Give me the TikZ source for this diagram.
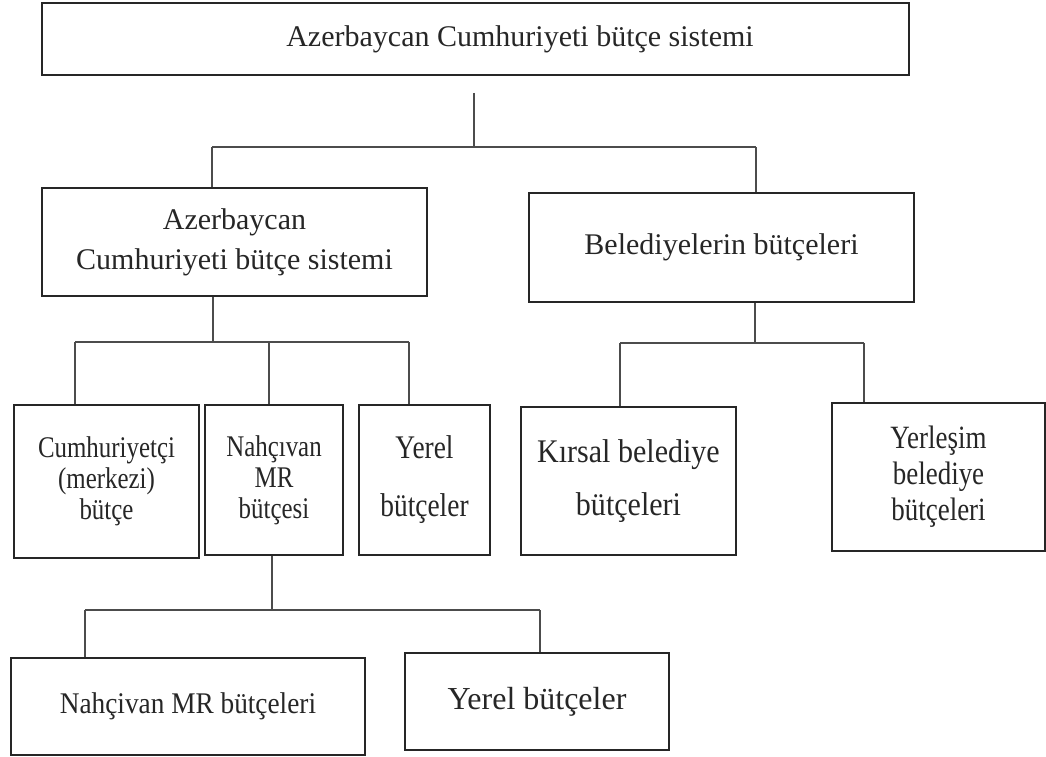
\documentclass[tikz,border=0pt]{standalone}
\usepackage{fontspec}
\setmainfont{Liberation Serif}
\newfontfamily\narrowfont[FakeStretch=0.83]{Liberation Serif}
\newfontfamily\halfnarrowfont[FakeStretch=0.91]{Liberation Serif}

\begin{document}
\begin{tikzpicture}[x=1pt,y=-1pt]
\tikzstyle{every node}+=[inner sep=0pt]
\tikzstyle{box}=[draw=black!85, line width=2pt, rectangle, align=center, text=black!85]
\tikzstyle{link}=[draw=black!70, line width=1.5pt]
\useasboundingbox (0,0) rectangle (1046,757);
\node [box, line width=2.5pt, minimum width=867pt, minimum height=72pt] (top) at (475.5,39) {};
\node [text=black!85, font=\fontsize{30}{36}\selectfont] (toptxt) at (520,39) {Azerbaycan Cumhuriyeti bütçe sistemi};
\node [box, minimum width=385pt, minimum height=108pt, font=\fontsize{30}{40}\selectfont] (azl) at (234.5,242) {Azerbaycan\\Cumhuriyeti bütçe sistemi};
\node [box, minimum width=385pt, minimum height=109pt, font=\fontsize{30}{40}\selectfont] (bel) at (721.5,247.5) {Belediyelerin bütçeleri};
\node [box, minimum width=185pt, minimum height=153pt, font=\narrowfont\fontsize{30}{31}\selectfont] (cum) at (106.5,481.5) {Cumhuriyetçi\\(merkezi)\\bütçe};
\node [box, minimum width=138pt, minimum height=150pt, font=\narrowfont\fontsize{30}{31}\selectfont] (nah) at (274,480) {Nahçıvan\\MR\\bütçesi};
\node [box, minimum width=131pt, minimum height=150pt, font=\narrowfont\fontsize{33}{58}\selectfont] (yer) at (424.5,480) {Yerel\\bütçeler};
\node [box, minimum width=215pt, minimum height=148pt, font=\halfnarrowfont\fontsize{33}{53}\selectfont] (kir) at (628.5,481) {Kırsal belediye\\bütçeleri};
\node [box, minimum width=213pt, minimum height=148pt, font=\narrowfont\fontsize{32.5}{36}\selectfont] (yrl) at (938.5,477) {Yerleşim\\belediye\\bütçeleri};
\node [box, minimum width=354pt, minimum height=97pt, font=\halfnarrowfont\fontsize{30}{32}\selectfont] (nmr) at (188,706.5) {Nahçivan MR bütçeleri};
\node [box, minimum width=264pt, minimum height=97pt, font=\fontsize{32}{36}\selectfont] (ybt) at (537,701.5) {Yerel bütçeler};
\coordinate (s0) at (474,93);
\coordinate (j0) at (474,147);
\coordinate (l0) at (212,147);
\coordinate (r0) at (756,147);
\draw [link] (s0) -- (j0);
\draw [link] (l0) -- (r0);
\draw [link] (l0) -- (l0 |- azl.north);
\draw [link] (r0) -- (r0 |- bel.north);
\coordinate (j1) at (213,342);
\coordinate (l1) at (75,342);
\coordinate (m1) at (269,342);
\coordinate (r1) at (409,342);
\draw [link] (j1 |- azl.south) -- (j1);
\draw [link] (l1) -- (r1);
\draw [link] (l1) -- (l1 |- cum.north);
\draw [link] (m1) -- (m1 |- nah.north);
\draw [link] (r1) -- (r1 |- yer.north);
\coordinate (j2) at (755,343);
\coordinate (l2) at (620,343);
\coordinate (r2) at (864,343);
\draw [link] (j2 |- bel.south) -- (j2);
\draw [link] (l2) -- (r2);
\draw [link] (l2) -- (l2 |- kir.north);
\draw [link] (r2) -- (r2 |- yrl.north);
\coordinate (j3) at (272,610);
\coordinate (l3) at (85,610);
\coordinate (r3) at (540,610);
\draw [link] (j3 |- nah.south) -- (j3);
\draw [link] (l3) -- (r3);
\draw [link] (l3) -- (l3 |- nmr.north);
\draw [link] (r3) -- (r3 |- ybt.north);
\end{tikzpicture}
\end{document}
